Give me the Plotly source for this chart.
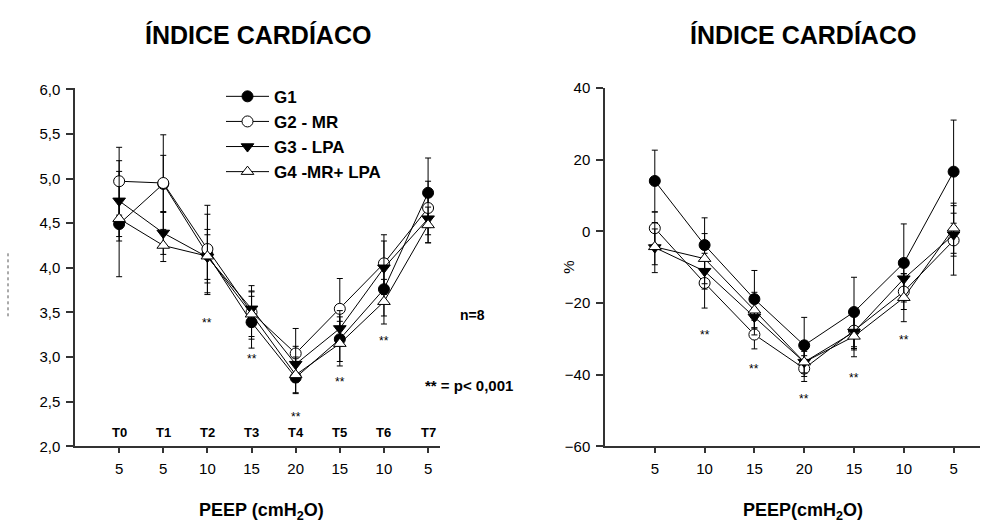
import plotly.graph_objects as go

# ---------------- data ----------------
times = ["T0", "T1", "T2", "T3", "T4", "T5", "T6", "T7"]
peep_left = ["5", "5", "10", "15", "20", "15", "10", "5"]
peep_right = ["5", "10", "15", "20", "15", "10", "5"]
groups = ["G1", "G2 - MR", "G3 - LPA", "G4 -MR+ LPA"]

# Left panel: cardiac index (absolute)
ic_g1 = [4.49, 4.94, 4.15, 3.39, 2.77, 3.20, 3.76, 4.84]
ic_g2 = [4.97, 4.95, 4.21, 3.50, 3.04, 3.54, 4.05, 4.67]
ic_g3 = [4.75, 4.39, 4.12, 3.54, 2.92, 3.32, 4.00, 4.55]
ic_g4 = [4.55, 4.25, 4.13, 3.48, 2.80, 3.15, 3.62, 4.48]
ic_sd_g1 = [0.59, 0.32, 0.45, 0.29, 0.18, 0.25, 0.30, 0.39]
ic_sd_g2 = [0.38, 0.54, 0.49, 0.30, 0.28, 0.34, 0.32, 0.30]
ic_sd_g3 = [0.45, 0.24, 0.25, 0.20, 0.20, 0.20, 0.30, 0.27]
ic_sd_g4 = [0.20, 0.18, 0.30, 0.25, 0.20, 0.25, 0.25, 0.20]

# Right panel: % variation
pc_g1 = [14.1, -3.8, -18.9, -31.8, -22.5, -8.8, 16.7]
pc_g2 = [0.9, -14.4, -28.8, -38.3, -27.7, -16.8, -2.5]
pc_g3 = [-4.5, -11.1, -23.9, -36.5, -28.1, -13.2, -0.9]
pc_g4 = [-4.3, -7.6, -22.0, -36.5, -29.3, -18.5, 0.9]
pc_sd_g1 = [8.6, 7.6, 8.0, 7.8, 9.7, 10.9, 14.4]
pc_sd_g2 = [4.5, 7.0, 4.0, 3.6, 5.0, 5.0, 9.7]
pc_sd_g3 = [7.0, 5.0, 5.0, 3.0, 5.0, 5.0, 6.0]
pc_sd_g4 = [5.0, 7.0, 5.0, 4.0, 5.7, 6.7, 7.0]

left_sig = [3, 4, 5, 6, 7]          # positions with ** (left: T2..T6)
left_sig_y = [3.38, 2.98, 2.33, 2.72, 3.18]
right_sig = [2, 3, 4, 5, 6]
right_sig_y = [-28.9, -38.4, -46.8, -40.8, -30.3]

# ---------------- styles ----------------
FONT = "Liberation Sans, Arial, sans-serif"
styles = [
    dict(symbol="circle", color="black"),
    dict(symbol="circle", color="white"),
    dict(symbol="triangle-down", color="black"),
    dict(symbol="triangle-up", color="white"),
]

fig = go.Figure()

xl = list(range(1, len(times) + 1))
xr = list(range(1, len(peep_right) + 1))

left_series = [(ic_g1, ic_sd_g1), (ic_g2, ic_sd_g2), (ic_g3, ic_sd_g3), (ic_g4, ic_sd_g4)]
right_series = [(pc_g1, pc_sd_g1), (pc_g2, pc_sd_g2), (pc_g3, pc_sd_g3), (pc_g4, pc_sd_g4)]

for i, (name, st) in enumerate(zip(groups, styles)):
    vals, sd = left_series[i]
    fig.add_trace(go.Scatter(
        x=xl, y=vals, mode="lines+markers", name=f"<b>{name}</b>", legendgroup=name,
        line=dict(color="black", width=1),
        marker=dict(symbol=st["symbol"], size=11, color=st["color"],
                    line=dict(color="black", width=1)),
        error_y=dict(type="data", array=sd, color="black", thickness=1, width=3),
        xaxis="x", yaxis="y", showlegend=True,
    ))
for i, (name, st) in enumerate(zip(groups, styles)):
    vals, sd = right_series[i]
    fig.add_trace(go.Scatter(
        x=xr, y=vals, mode="lines+markers", name=name, legendgroup=name,
        line=dict(color="black", width=1),
        marker=dict(symbol=st["symbol"], size=11, color=st["color"],
                    line=dict(color="black", width=1)),
        error_y=dict(type="data", array=sd, color="black", thickness=1, width=3),
        xaxis="x2", yaxis="y2", showlegend=False,
    ))

W, H = 993, 527
def px_x(p):
    return p / W
def px_y(p):
    return 1 - p / H

axis_common = dict(
    showline=True, linecolor="#333", linewidth=1.5, ticks="outside",
    tickcolor="#333", tickwidth=1.5, showgrid=False, zeroline=False,
    tickfont=dict(family=FONT, size=15, color="black"), ticklabelstandoff=3,
)

fig.update_layout(
    width=W, height=H, margin=dict(l=0, r=0, t=0, b=0),
    paper_bgcolor="white", plot_bgcolor="white",
    separators=",.",
    font=dict(family=FONT, color="black"),
    xaxis=dict(domain=[px_x(75), px_x(440)], range=[0, 8.27],
               tickvals=xl, ticktext=peep_left, ticklen=5, anchor="y", **axis_common),
    yaxis=dict(domain=[px_y(452), px_y(82)], range=[2.0, 6.02],
               tickvals=[2.0, 2.5, 3.0, 3.5, 4.0, 4.5, 5.0, 5.5, 6.0], tickformat=".1f",
               ticklen=7, anchor="x", **axis_common),
    xaxis2=dict(domain=[px_x(605), px_x(980)], range=[0, 7.53],
                tickvals=xr, ticktext=peep_right, ticklen=5, anchor="y2", **axis_common),
    yaxis2=dict(domain=[px_y(452), px_y(82)], range=[-60, 40.2],
                tickvals=[-60, -40, -20, 0, 20, 40], ticklen=7, anchor="x2", **axis_common),
    legend=dict(x=px_x(221), y=px_y(73), xanchor="left", yanchor="top",
                bgcolor="rgba(0,0,0,0)", tracegroupgap=0, itemwidth=43,
                font=dict(family=FONT, size=17, color="black"),
                itemclick=False),
    showlegend=True,
)

def ann(text, x, y, size, xref="paper", yref="paper", angle=0):
    if xref == "paper":
        x = px_x(x)
    if yref == "paper":
        y = px_y(y)
    fig.add_annotation(text=text, x=x, y=y, xref=xref, yref=yref, showarrow=False,
                       xanchor="center", yanchor="middle", textangle=angle,
                       font=dict(family=FONT, size=size, color="black"))

# Titles
for cx in [258, 803]:
    ann("<b>ÍNDICE CARDÍACO</b>", cx, 28, 25)
ann("<b>PEEP (cmH<sub>2</sub>O)</b>", 261, 519, 18)
ann("<b>PEEP(cmH<sub>2</sub>O)</b>", 803, 519, 18)
ann("%", 569, 268, 15, angle=-90)

# T labels
for xv, t in zip(xl, times):
    ann(f"<b>{t}</b>", xv, 2.16, 13, xref="x", yref="y")
# significance stars
for xv, yv in zip(left_sig, left_sig_y):
    ann("**", xv, yv, 12, xref="x", yref="y")
for xv, yv in zip(right_sig, right_sig_y):
    ann("**", xv, yv, 12, xref="x2", yref="y2")
ann("<b>n=8</b>", 472, 317, 14)
ann("<b>** = p< 0,001</b>", 469, 389, 15)

# faint clipped y-axis label remnant at far left
fig.add_shape(type="line", xref="paper", yref="paper", x0=px_x(8), x1=px_x(8),
              y0=px_y(253), y1=px_y(318), line=dict(color="#555", width=1, dash="3px,3px"))

fig.write_html("out.html")
